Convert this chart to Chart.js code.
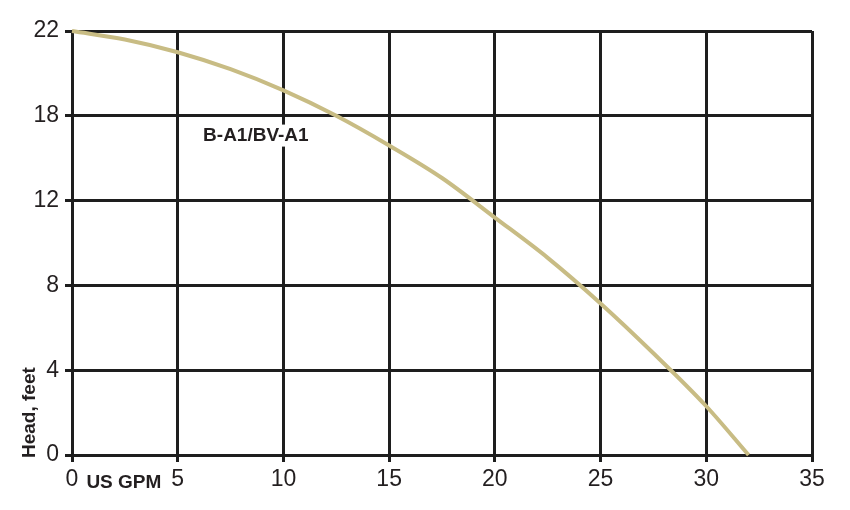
<!DOCTYPE html>
<html>
<head>
<meta charset="utf-8">
<script src="https://cdn.jsdelivr.net/npm/chart.js@4.4.1/dist/chart.umd.min.js"></script>
<style>
  html, body { margin: 0; padding: 0; background: #fff; }
  #wrap { width: 850px; height: 510px; position: relative; }
</style>
</head>
<body>
<div id="wrap"><canvas id="pumpChart"></canvas></div>
<script>
// Pump curve
const flowGpm = [0, 2.5, 5, 7.5, 10, 12.5, 15, 17.5, 20, 22.5, 25, 27.5, 30, 32];
const headFeet = [22, 21.6, 21.0, 20.2, 19.2, 18.0, 15.9, 13.6, 11.2, 9.3, 7.15, 4.8, 2.3, 0];
const headTicks = [0, 4, 8, 12, 18, 22];   // equally spaced on the chart
const flowTicks = [0, 5, 10, 15, 20, 25, 30, 35];
const seriesLabel = 'B-A1/BV-A1';

const FONT = '"Liberation Sans", Arial, sans-serif';
const INK = '#231f20';

// head axis is not linear: each tick label sits one grid step apart
function headToPos(ft) {
  for (let i = 0; i < headTicks.length - 1; i++) {
    const a = headTicks[i], b = headTicks[i + 1];
    if (ft <= b) return i + (ft - a) / (b - a);
  }
  return headTicks.length - 1;
}

const labelsPlugin = {
  id: 'labels',
  afterDraw(chart) {
    const { ctx, chartArea } = chart;
    const x = chart.scales.x, y = chart.scales.y;
    ctx.save();
    // curve name, on a white patch over the grid
    ctx.font = 'bold 19px ' + FONT;
    const lx = x.getPixelForValue(6.2);
    const ly = y.getPixelForValue(headToPos(16.6));
    const w = ctx.measureText(seriesLabel).width;
    ctx.fillStyle = '#fff';
    ctx.fillRect(lx - 3, ly - 11, w + 6, 22);
    ctx.fillStyle = INK;
    ctx.textBaseline = 'middle';
    ctx.textAlign = 'left';
    ctx.fillText(seriesLabel, lx, ly);

    ctx.font = 'bold 19px ' + FONT;
    ctx.textBaseline = 'alphabetic';
    ctx.fillText('US GPM', x.getPixelForValue(0.68), chartArea.bottom + 33);

    ctx.translate(30, chartArea.bottom + 3);
    ctx.rotate(-Math.PI / 2);
    ctx.textBaseline = 'middle';
    ctx.fillText('Head, feet', 0, 0);
    ctx.restore();
  }
};

const gridOpts = { color: '#1e1e1e', lineWidth: 3, tickLength: 7 };

new Chart(document.getElementById('pumpChart'), {
  type: 'line',
  data: {
    datasets: [{
      label: seriesLabel,
      data: flowGpm.map((f, i) => ({ x: f, y: headToPos(headFeet[i]) })),
      borderColor: '#c8bc84',
      borderWidth: 4,
      pointRadius: 0,
      cubicInterpolationMode: 'monotone',
      clip: 4
    }]
  },
  options: {
    responsive: true,
    maintainAspectRatio: false,
    animation: false,
    layout: { padding: { top: 31, right: 38, left: 0, bottom: 0 } },
    plugins: { legend: { display: false }, tooltip: { enabled: false } },
    scales: {
      x: {
        type: 'linear',
        min: flowTicks[0],
        max: flowTicks[flowTicks.length - 1],
        ticks: { stepSize: 5, color: INK, font: { family: FONT, size: 23 }, padding: 4, maxRotation: 0 },
        grid: gridOpts,
        border: { color: '#1e1e1e', width: 3 },
        afterFit: s => { s.height = 55; }
      },
      y: {
        type: 'linear',
        min: 0,
        max: headTicks.length - 1,
        ticks: {
          stepSize: 1,
          color: INK,
          font: { family: FONT, size: 23 },
          padding: 6,
          callback: v => headTicks[v]
        },
        grid: gridOpts,
        border: { color: '#1e1e1e', width: 3 },
        afterFit: s => { s.width = 72; }
      }
    }
  },
  plugins: [labelsPlugin]
});
</script>
</body>
</html>
